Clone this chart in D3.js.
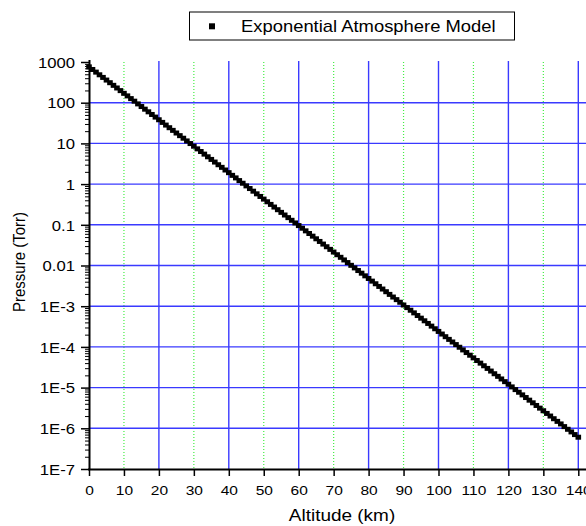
<!DOCTYPE html>
<html>
<head>
<meta charset="utf-8">
<script src="https://cdn.jsdelivr.net/npm/d3@7"></script>
<style>
  html, body { margin: 0; padding: 0; background: #fff; }
  #chart { width: 586px; height: 526px; }
  text { font-family: "Liberation Sans", Arial, sans-serif; fill: #000; }
</style>
</head>
<body>
<div id="chart"></div>
<script>
// altitude in km, one point per km
const altitude = d3.range(0, 141);
// pressure in Torr
const pressure = [
  760, 655, 564, 485, 418, 360, 310, 267, 230, 198,
  170, 147, 126, 109, 93.5, 80.5, 69.3, 59.7, 51.4, 44.3,
  38.1, 32.8, 28.2, 24.3, 20.9, 18.0, 15.5, 13.4, 11.5, 9.91,
  8.53, 7.34, 6.32, 5.45, 4.69, 4.04, 3.48, 2.99, 2.58, 2.22,
  1.91, 1.64, 1.42, 1.22, 1.05, 0.904, 0.778, 0.670, 0.577, 0.497,
  0.428, 0.368, 0.317, 0.273, 0.235, 0.202, 0.174, 0.150, 0.129, 0.111,
  0.0957, 0.0824, 0.0710, 0.0611, 0.0526, 0.0453, 0.0390, 0.0336, 0.0289, 0.0249,
  0.0214, 0.0184, 0.0159, 0.0137, 0.0118, 0.0101, 0.00873, 0.00752, 0.00647, 0.00557,
  0.00480, 0.00413, 0.00356, 0.00306, 0.00264, 0.00227, 0.00195, 0.00168, 0.00145, 0.00125,
  0.00107, 9.25e-4, 7.96e-4, 6.86e-4, 5.90e-4, 5.08e-4, 4.38e-4, 3.77e-4, 3.24e-4, 2.79e-4,
  2.40e-4, 2.07e-4, 1.78e-4, 1.53e-4, 1.32e-4, 1.14e-4, 9.80e-5, 8.43e-5, 7.26e-5, 6.25e-5,
  5.38e-5, 4.63e-5, 3.99e-5, 3.44e-5, 2.96e-5, 2.55e-5, 2.19e-5, 1.89e-5, 1.63e-5, 1.40e-5,
  1.21e-5, 1.04e-5, 8.93e-6, 7.69e-6, 6.62e-6, 5.70e-6, 4.91e-6, 4.23e-6, 3.64e-6, 3.13e-6,
  2.70e-6, 2.32e-6, 2.00e-6, 1.72e-6, 1.48e-6, 1.28e-6, 1.10e-6, 9.46e-7, 8.15e-7, 7.01e-7,
  6.04e-7
];

const xTicks = [0, 10, 20, 30, 40, 50, 60, 70, 80, 90, 100, 110, 120, 130, 140];
const yTicks = [1000, 100, 10, 1, 0.1, 0.01, 1e-3, 1e-4, 1e-5, 1e-6, 1e-7];
const yTickLabels = ["1000", "100", "10", "1", "0.1", "0.01", "1E-3", "1E-4", "1E-5", "1E-6", "1E-7"];
const seriesName = "Exponential Atmosphere Model";

const width = 586, height = 526;
const margin = { top: 62, left: 89, bottom: 57, right: 8 };
const stretch = 1.15; // text in the picture is a bit wider than tall
const blue = "#3a3aff";

const svg = d3.select("#chart").append("svg")
  .attr("width", width)
  .attr("height", height);

const x = d3.scaleLinear()
  .domain([0, 140])
  .range([margin.left, 578.3]);

const y = d3.scaleLog()
  .domain([1e-7, 1000])
  .range([height - margin.bottom, margin.top]);

const plotBottom = y(1e-7);

// grid: green dotted at odd tens, blue at even tens
svg.append("g")
  .selectAll("line")
  .data(xTicks.filter(d => d % 20 === 10))
  .join("line")
  .attr("x1", d => x(d))
  .attr("x2", d => x(d))
  .attr("y1", margin.top)
  .attr("y2", plotBottom)
  .attr("stroke", "#44ee44")
  .attr("stroke-width", 1.2)
  .attr("stroke-dasharray", "1,2");

svg.append("g")
  .selectAll("line")
  .data(xTicks.filter(d => d > 0 && d % 20 === 0))
  .join("line")
  .attr("x1", d => x(d))
  .attr("x2", d => x(d))
  .attr("y1", margin.top - 1)
  .attr("y2", plotBottom)
  .attr("stroke", blue)
  .attr("stroke-width", 1.4);

svg.append("g")
  .selectAll("line")
  .data(yTicks.filter(d => d < 1000 && d > 1e-7))
  .join("line")
  .attr("x1", margin.left)
  .attr("x2", width)
  .attr("y1", d => y(d))
  .attr("y2", d => y(d))
  .attr("stroke", blue)
  .attr("stroke-width", 1.4);

// data markers
svg.append("g")
  .selectAll("rect")
  .data(altitude.map((a, i) => ({ a, p: pressure[i] })))
  .join("rect")
  .attr("x", d => x(d.a) - 2.8)
  .attr("y", d => y(d.p) - 2.5)
  .attr("width", 5.6)
  .attr("height", 5)
  .attr("fill", "#000");

// minor y ticks
const minorY = [];
yTicks.slice(1).forEach(dec => {
  for (let k = 2; k <= 9; k++) minorY.push(dec * k);
});
svg.append("g")
  .attr("transform", `translate(${margin.left},0)`)
  .call(d3.axisLeft(y).tickValues(minorY).tickSize(4).tickFormat(""))
  .call(g => g.select(".domain").remove())
  .selectAll("line").attr("stroke", "#000").attr("stroke-width", 1);

// y axis
const yAxis = svg.append("g")
  .attr("transform", `translate(${margin.left},0)`)
  .call(d3.axisLeft(y).tickValues(yTicks).tickSize(8).tickSizeOuter(0)
    .tickFormat((d, i) => yTickLabels[i]));
yAxis.select(".domain").attr("stroke", "#000").attr("stroke-width", 2)
  .attr("d", `M0.5,${margin.top - 2}V${plotBottom + 1}`);
yAxis.selectAll(".tick line").attr("stroke", "#000").attr("stroke-width", 1.5);
yAxis.selectAll(".tick text")
  .attr("x", -14 / stretch)
  .attr("dy", "0.36em")
  .attr("transform", `scale(${stretch},1)`)
  .style("font-size", "14.5px")
  .style("font-family", "'Liberation Sans', Arial, sans-serif");

// x axis
const xAxis = svg.append("g")
  .attr("transform", `translate(0,${plotBottom})`)
  .call(d3.axisBottom(x).tickValues(xTicks).tickSize(7).tickSizeOuter(0));
xAxis.select(".domain").attr("stroke", "#000").attr("stroke-width", 2)
  .attr("d", `M${margin.left - 1},0.5H${width}`);
xAxis.selectAll(".tick line").attr("stroke", "#000").attr("stroke-width", 1.5);
xAxis.selectAll(".tick text")
  .attr("y", 26.5)
  .attr("dy", 0)
  .attr("transform", `scale(${stretch},1)`)
  .style("font-size", "13.5px")
  .style("font-family", "'Liberation Sans', Arial, sans-serif");

// axis titles
svg.append("text")
  .attr("transform", `translate(342,521) scale(${stretch},1)`)
  .attr("text-anchor", "middle")
  .style("font-size", "16.5px")
  .text("Altitude (km)");

svg.append("text")
  .attr("transform", `translate(24.5,262) scale(${stretch},1) rotate(-90)`)
  .attr("text-anchor", "middle")
  .style("font-size", "15px")
  .text("Pressure (Torr)");

// legend
const legend = svg.append("g");
legend.append("rect")
  .attr("x", 189.5).attr("y", 12)
  .attr("width", 325).attr("height", 28)
  .attr("fill", "#fff")
  .attr("stroke", "#000")
  .attr("stroke-width", 1);
legend.append("rect")
  .attr("x", 209).attr("y", 23.3)
  .attr("width", 6).attr("height", 6)
  .attr("fill", "#000");
legend.append("text")
  .attr("transform", `translate(241,31.5) scale(${stretch},1)`)
  .style("font-size", "16px")
  .text(seriesName);
</script>
</body>
</html>
